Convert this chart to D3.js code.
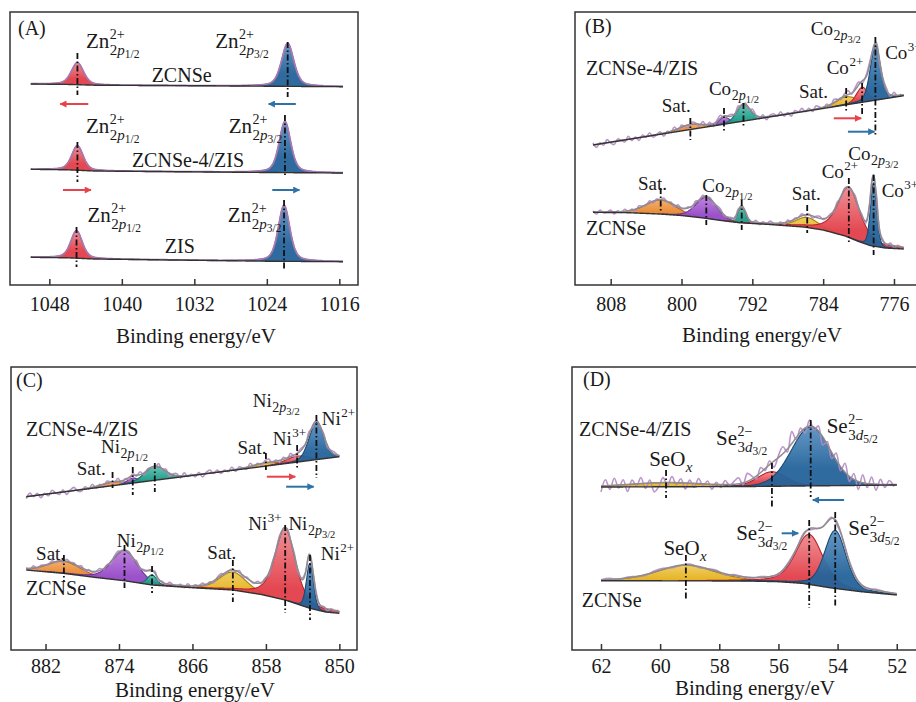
<!DOCTYPE html>
<html><head><meta charset="utf-8">
<script src="https://cdn.jsdelivr.net/npm/d3@7"></script>
<style>
body{margin:0;background:#fff}
svg{display:block}
text{font-family:"Liberation Serif","Times New Roman",serif;fill:#1a1a1a}
</style>
</head><body>
<svg id="chart" width="916" height="702"></svg>
<script>
// ================= DATA =================
// axis ticks (binding energy, eV)
const ticksA = [1048, 1040, 1032, 1024, 1016];
const ticksB = [808, 800, 792, 784, 776];
const ticksC = [882, 874, 866, 858, 850];
const ticksD = [62, 60, 58, 56, 54, 52];

// sample names
const samplesA = ["ZCNSe", "ZCNSe-4/ZIS", "ZIS"];
const samplesBCD = ["ZCNSe-4/ZIS", "ZCNSe"];

// ---- (A) Zn 2p ----  baselines: [energy, intensity a.u.]
const baseA1 = [[1050.05,201],[1046,200.6],[1043,199.8],[1030,199.2],[1024,198.8],[1015.6,198.3]];
const baseA2 = [[1050.05,115.7],[1046,115.2],[1043,114.0],[1030,113.0],[1024,112.5],[1015.6,112.0]];
const baseA3 = [[1050.05,27.7],[1046,27.2],[1043,26.0],[1030,24.5],[1024,23.8],[1015.6,23.3]];
// peaks: comp, centre, height, fwhm, lorentz fraction, marker top, marker bottom
const peaksA1 = [
  {comp:"red",  c:1044.9, h:22,   w:1.6, eta:0.45, mt:232, mb:190},
  {comp:"blue", c:1021.7, h:43,   w:1.6, eta:0.45, mt:243, mb:188}];
const peaksA2 = [
  {comp:"red",  c:1044.9, h:24.5, w:1.5, eta:0.45, mt:143, mb:103},
  {comp:"blue", c:1022.0, h:51,   w:1.5, eta:0.45, mt:170, mb:108}];
const peaksA3 = [
  {comp:"red",  c:1045.0, h:27.5, w:1.5, eta:0.45, mt:58,  mb:18},
  {comp:"blue", c:1022.1, h:56,   w:1.5, eta:0.45, mt:85,  mb:16}];
const arrowsA = [
  {comp:"red",  from:1043.7, to:1046.8, I:181},
  {comp:"blue", from:1020.8, to:1023.8, I:181},
  {comp:"red",  from:1046.5, to:1043.4, I:95},
  {comp:"blue", from:1023.4, to:1020.4, I:95}];

// ---- (B) Co 2p ----
const baseB1 = [[810,140],[799,155.5],[793,163.9],[781.4,180.2],[774.9,189.3]];
const baseB2 = [[810,72.7],[806,72.3],[802.5,71],[800,69.5],[797.5,67],[795.5,64.5],[793.5,62.3],[790,60.5],[786.2,58],[784,55],[781.5,49],[780,43.5],[778.7,39.5],[777,37],[774.9,36]];
const peaksB1 = [
  {comp:"orange", c:799.0, h:5,  w:3.0,  eta:0.3, mt:167, mb:145},
  {comp:"purple", c:795.2, h:7,  w:1.4,  eta:0.3, mt:177, mb:152},
  {comp:"teal",   c:793.0, h:17, w:1.8,  eta:0.3, mt:182, mb:157},
  {comp:"yellow", c:781.4, h:8,  w:2.6,  eta:0.3, mt:197, mb:173},
  {comp:"red",    c:779.6, h:15, w:1.5,  eta:0.3, mt:202, mb:169},
  {comp:"blue",   c:778.1, h:55, w:1.35, eta:0.3, mt:248, mb:148}];
const peaksB2 = [
  {comp:"orange", c:802.35, h:14, w:4.0,  eta:0.2, mt:97,  mb:73},
  {comp:"purple", c:797.2,  h:21, w:2.8,  eta:0.2, mt:90,  mb:60},
  {comp:"teal",   c:793.2,  h:16, w:1.0,  eta:0.2, mt:85,  mb:55},
  {comp:"yellow", c:785.8,  h:10, w:3.0,  eta:0.2, mt:80,  mb:52},
  {comp:"red",    c:781.1,  h:50, w:3.0,  eta:0.55, mt:107, mb:43},
  {comp:"blue",   c:778.3,  h:63, w:0.85, eta:0.2, mt:110, mb:30}];
const arrowsB = [
  {comp:"red",  from:782.8, to:779.7, I:166.7},
  {comp:"blue", from:781.2, to:778.2, I:153.3}];
// raw-data residuals (every 0.4 eV from 810 eV)
const resB1 = [2,-3,1,-2,3,-1,-3,2,0,-2,3,-2,1,-3,2,-1,3,-2,0,2,-3,1,-1,3,-2,2,-1,-3,2,1,-2,3,-1,2,-3,1,3,-2,0,2,-1,3,-2,1,-2,3,0,-2,2,-3,1,2,-1,3,-2,1,-3,2,0,3,-1,2,-2,3,1,-1,2,-3,3,1,-2,2,4,-1,2,3,-2,1,3,-1,2,-3,1,2,-2,3,-1,1];
const resB2 = [1,-2,2,-1,0,2,-2,1,-1,2,-1,1,-2,2,0,-1,2,-2,1,0,2,-1,1,-2,2,-1,0,1,-2,2,-1,2,-1,1,-2,1,2,-1,0,1,-2,2,-1,1,0,-1,2,-2,1,-1,2,0,-1,1,-2,2,-1,1,0,2,-1,1,-2,1,2,-1,0,1,-1,2,-2,1,0,-1,2,-1,1,-2,1,0,2,-1,1,-1,2,-2,1,0];

// ---- (C) Ni 2p ----
const baseC1 = [[884.1,153.3],[850,193.3]];
const baseC2 = [[884.1,80],[880.1,76.7],[876.5,72.5],[873.4,69.3],[870.4,65],[866,62.3],[861.6,60],[858.5,55.5],[855.9,50],[853.2,41.7],[851.5,38],[850,36.7]];
const peaksC1 = [
  {comp:"orange", c:874.7, h:3.5, w:3.0, eta:0.2, mt:178, mb:162},
  {comp:"purple", c:872.5, h:5,   w:1.4, eta:0.2, mt:183, mb:155},
  {comp:"teal",   c:870.1, h:14,  w:2.6, eta:0.2, mt:187, mb:158},
  {comp:"yellow", c:858.0, h:3,   w:3.5, eta:0.2, mt:197, mb:180},
  {comp:"red",    c:854.6, h:6,   w:2.8, eta:0.2, mt:205, mb:180},
  {comp:"blue",   c:852.5, h:37,  w:1.9, eta:0.2, mt:235, mb:172}];
const peaksC2 = [
  {comp:"orange", c:880.0, h:12,  w:4.2, eta:0.2, mt:95,  mb:68},
  {comp:"purple", c:873.4, h:30,  w:3.3, eta:0.3, mt:105, mb:62},
  {comp:"teal",   c:870.4, h:10,  w:1.2, eta:0.2, mt:84,  mb:57},
  {comp:"yellow", c:861.6, h:18,  w:3.5, eta:0.2, mt:90,  mb:48},
  {comp:"red",    c:855.9, h:72,  w:2.6, eta:0.5, mt:125, mb:37},
  {comp:"blue",   c:853.2, h:45,  w:0.9, eta:0.2, mt:95,  mb:30}];
const arrowsC = [
  {comp:"red",  from:857.9, to:854.8, I:173.3},
  {comp:"blue", from:855.8, to:852.8, I:163.3}];
const resC1 = [-2,3,-1,2,-3,1,-2,3,0,-2,2,-3,1,3,-1,-2,2,-1,3,-2,1,-3,2,0,-1,3,-2,1,-2,2,-1,3,-2,1,0,-2,3,-1,2,-3,1,2,-2,3,-1,1,-2,2,-3,1,3,-1,2,-2,1,-1,3,-2,2,0,-2,3,-1,1,-2,2,3,-1,1,-2,2,-1,3,-2,1,2,-1,3,-2,1,-1,2,-2,1,2,-1];
const resC2 = [1,-1,2,-2,1,0,-1,2,-1,1,-2,2,0,1,-1,2,-2,1,-1,0,2,-1,1,-2,1,2,-1,0,1,-2,2,-1,1,0,-1,2,-2,1,-1,2,0,-1,1,-2,2,-1,1,0,2,-1,1,-2,1,2,-1,0,1,-1,2,-2,1,0,-1,2,-1,1,-2,1,0,2,-1,1,-1,2,-2,1,0,1,-1,2,-1,1,-2,1,0,1];

// ---- (D) Se 3d ----
const baseD1 = [[62,163],[57,163.5],[52,165]];
const baseD2 = [[62,69.3],[57,69],[56,68.3],[55.2,66.7],[54.2,62],[53.2,58.3],[52,55]];
const peaksD1 = [
  {comp:"yellow", c:59.8,  h:4,    w:3.0,  eta:0.2, mt:180, mb:152},
  {comp:"red",    c:56.22, h:14.5, w:1.15, eta:0.2, mt:187, mb:142},
  {comp:"blue",   c:54.91, h:59,   w:1.55, eta:0.1, mt:230, mb:153}];
const peaksD2 = [
  {comp:"yellow", c:59.13, h:15.5, w:2.3,  eta:0.3, mt:95,  mb:50},
  {comp:"red",    c:54.96, h:50,   w:1.1,  eta:0.4, mt:130, mb:42},
  {comp:"blue",   c:54.08, h:58,   w:0.85, eta:0.3, mt:138, mb:42}];
const arrowsD = [
  {comp:"blue", from:53.78, to:54.84, I:150},
  {comp:"blue", from:55.89, to:55.33, I:116.7}];
// residuals every 0.15 eV (top) / 0.3 eV (bottom) from 62 eV
const resD1 = [-6,6,-4,7,-3,5,-7,4,-2,6,-5,3,-9,-4,5,-3,6,-2,4,-6,3,-4,5,-2,3,-5,2,-3,4,-1,3,6,-2,8,3,-3,5,-2,4,-6,2,7,-3,12,-2,4,-5,6,-3,5,-8,3,-6,7,-4,9,-5,6,-8,8,-4,7,-6,5,-3,4,-2];
const resD2 = [0,1,-1,1,0,-1,1,1,-1,0,1,-1,0,1,-1,1,0,-1,1,0,-1,1,0,1,-1,0,1,-1,1,0,-1,1,0,0];

// sub/superscript pieces
const sub2p12 = [["2",""],["p","i"],["1/2","s"]];
const sub2p32 = [["2",""],["p","i"],["3/2","s"]];
const sub3d32 = [["3",""],["d","i"],["3/2","s"]];
const sub3d52 = [["3",""],["d","i"],["5/2","s"]];

// annotations: [energy, intensity, main, sup, sub]
const labelsA = [
  [1043.95,237,"Zn","2+",sub2p12],[1029.7,237,"Zn","2+",sub2p32],
  [1043.95,152,"Zn","2+",sub2p12],[1028.2,152,"Zn","2+",sub2p32],
  [1043.8,63,"Zn","2+",sub2p12],[1028.3,63,"Zn","2+",sub2p32]];
const sampleLabelsA = [[1033.4,203,"middle"],[1032.7,118,"middle"],[1033.6,32,"middle"]];
const labelsB = [
  [802.24,173.3,"Sat.",null,null],[796.9,190,"Co",null,sub2p12],
  [786.73,187,"Sat.",null,null],[783.6,211,"Co","2+",null],
  [785.4,250,"Co",null,sub2p32],[777.0,226,"Co","3+",null],
  [804.92,95,"Sat.",null,null],[797.65,93.3,"Co",null,sub2p12],
  [787.55,85,"Sat.",null,null],[784.17,106.7,"Co","2+",null],
  [781.16,125,"Co",null,sub2p32],[777.39,88.3,"Co","3+",null]];
const sampleLabelsB = [[810.79,210,"start"],[810.79,50,"start"]];
const labelsC = [
  [878.6,175,"Sat.",null,null],[875.95,196.7,"Ni",null,sub2p12],
  [861.1,196,"Sat.",null,null],[857.25,205,"Ni","3+",null],
  [859.43,243.3,"Ni",null,sub2p32],[851.92,225,"Ni","2+",null],
  [883.03,90,"Sat.",null,null],[874.24,103.3,"Ni",null,sub2p12],
  [864.38,90.7,"Sat.",null,null],[859.91,120,"Ni","3+",null],
  [855.55,120,"Ni",null,sub2p32],[852.03,90,"Ni","2+",null]];
const sampleLabelsC = [[884.12,214,"start"],[884.12,55,"start"]];
const labelsD = [
  [60.37,184,"SeO",null,[["x","i"]]],[58.11,205,"Se","2−",sub3d32],[54.37,217,"Se","2−",sub3d52],
  [59.89,95,"SeO",null,[["x","i"]]],[57.43,110,"Se","2−",sub3d32],[53.64,115,"Se","2−",sub3d52]];
const sampleLabelsD = [[62.74,214,"start"],[62.65,42.7,"start"]];

// ================= STYLE / LAYOUT =================
const palette = {
  red:   {fill:"#e23f49", light:"#ef8a90", line:"#b8232c"},
  blue:  {fill:"#24639a", light:"#5b92c2", line:"#1b4a72"},
  teal:  {fill:"#1f9c8a", light:"#5fbfae", line:"#15705f"},
  purple:{fill:"#9548c6", light:"#b97ddc", line:"#6d2f96"},
  orange:{fill:"#e8852a", light:"#f1a961", line:"#b3621a"},
  yellow:{fill:"#e5b11c", light:"#efcb5c", line:"#a88010"}
};
const arrowCol = {red:"#e8434b", blue:"#2f72a6"};

const panels = [
  {letter:"(A)", x0:10,  x1:358, y0:12,  y1:285, dom:[1052.34,1013.94], ticks:ticksA, tickPad:12, lp:[18,35],
   title:[196,343], gridStep:0.05, fs:21, spectra:[
     {base:baseA1, peaks:peaksA1, rng:[1050.05,1015.6]},
     {base:baseA2, peaks:peaksA2, rng:[1050.05,1015.6]},
     {base:baseA3, peaks:peaksA3, rng:[1050.05,1015.6]}],
   arrows:arrowsA, labels:labelsA, samples:samplesA, sampleLabels:sampleLabelsA, rawA:true},
  {letter:"(B)", x0:575, x1:924, y0:12,  y1:285, dom:[812.03,772.61], ticks:ticksB, tickPad:12, lp:[585,33],
   title:[762,342], gridStep:0.05, fs:19, spectra:[
     {base:baseB1, peaks:peaksB1, rng:[810,774.9], res:resB1, resStep:0.4},
     {base:baseB2, peaks:peaksB2, rng:[810,774.9], res:resB2, resStep:0.4}],
   arrows:arrowsB, labels:labelsB, samples:samplesBCD, sampleLabels:sampleLabelsB},
  {letter:"(C)", x0:11,  x1:357, y0:367, y1:650, dom:[885.76,848.08], ticks:ticksC, tickPad:9, lp:[16,387],
   title:[195,697], gridStep:0.05, fs:19, spectra:[
     {base:baseC1, peaks:peaksC1, rng:[884.1,850], res:resC1, resStep:0.4},
     {base:baseC2, peaks:peaksC2, rng:[884.1,850], res:resC2, resStep:0.4}],
   arrows:arrowsC, labels:labelsC, samples:samplesBCD, sampleLabels:sampleLabelsC},
  {letter:"(D)", x0:572, x1:921, y0:367, y1:650, dom:[62.98,51.18], ticks:ticksD, tickPad:9, lp:[583,386],
   title:[755,695], gridStep:0.02, fs:21, spectra:[
     {base:baseD1, peaks:peaksD1, rng:[62,52], res:resD1, resStep:0.15},
     {base:baseD2, peaks:peaksD2, rng:[62,52], res:resD2, resStep:0.3}],
   arrows:arrowsD, labels:labelsD, samples:samplesBCD, sampleLabels:sampleLabelsD}
];

// ================= DRAW =================
const svg = d3.select("#chart");
const defs = svg.append("defs");
Object.entries(palette).forEach(([k,c])=>{
  const g = defs.append("linearGradient").attr("id","grad-"+k).attr("x1",0).attr("y1",0).attr("x2",0).attr("y2",1);
  g.append("stop").attr("offset","0%").attr("stop-color",c.light);
  g.append("stop").attr("offset","70%").attr("stop-color",c.fill);
  g.append("stop").attr("offset","100%").attr("stop-color",c.fill);
});
Object.entries(arrowCol).forEach(([k,c])=>{
  defs.append("marker").attr("id","arr-"+k).attr("viewBox","0 0 10 10").attr("refX",9).attr("refY",5)
    .attr("markerWidth",9).attr("markerHeight",7).attr("markerUnits","userSpaceOnUse").attr("orient","auto")
    .append("path").attr("d","M0,0 L10,5 L0,10 Z").attr("fill",c);
});

function pv(E,p){const d=(E-p.c)/p.w; const g=Math.exp(-4*Math.LN2*d*d); const l=1/(1+4*d*d); return p.h*(p.eta*l+(1-p.eta)*g);}

function peakLabel(g, x, y, main, sup, sub, F){
  const t = g.append("text").attr("x",x).attr("y",y).style("font-size",F+"px").text(main);
  const w = t.node().getComputedTextLength();
  const xs = x + w + 0.5;
  const fsS = Math.round(F*0.66);
  if (sup) g.append("text").attr("x",xs).attr("y",y-F*0.42).style("font-size",fsS+"px").text(sup);
  if (sub){
    const s = g.append("text").attr("x",xs).attr("y",y+(sup?F*0.32:F*0.27)).style("font-size",(fsS+1)+"px");
    sub.forEach(([txt,st])=>{
      const ts = s.append("tspan").text(txt);
      if (st.includes("i")) ts.style("font-style","italic");
      if (st.includes("s")) ts.style("font-size",(fsS-2.5)+"px").attr("dy",3);
    });
  }
}

panels.forEach(P=>{
  const x = d3.scaleLinear().domain(P.dom).range([P.x0,P.x1]);
  const y = d3.scaleLinear().domain([0,P.y1-P.y0]).range([P.y1,P.y0]);
  const g = svg.append("g");

  P.spectra.forEach(S=>{
    const base = d3.scaleLinear().domain(S.base.map(d=>d[0])).range(S.base.map(d=>d[1])).clamp(true);
    const grid = d3.range(S.rng[0], S.rng[1]-1e-9, -P.gridStep);
    const env = E => base(E) + d3.sum(S.peaks, p=>pv(E,p));

    // component fills
    S.peaks.forEach(p=>{
      const pts = grid.filter(E=>pv(E,p)>0.3).map(E=>({E, b:base(E), v:pv(E,p)}));
      const c = palette[p.comp];
      g.append("path").datum(pts)
        .attr("d", d3.area().x(d=>x(d.E)).y0(d=>y(d.b)).y1(d=>y(d.b+d.v)))
        .attr("fill","url(#grad-"+p.comp+")").attr("fill-opacity",0.95);
      g.append("path").datum(pts)
        .attr("d", d3.line().x(d=>x(d.E)).y(d=>y(d.b+d.v)))
        .attr("fill","none").attr("stroke",c.line).attr("stroke-width",1.1);
    });

    // raw data
    if (S.res){
      const raw = S.res.map((r,i)=>[S.rng[0]-i*S.resStep, r]).filter(d=>d[0]>=S.rng[1]-1e-9)
        .map(d=>[d[0], env(d[0])+d[1]]);
      g.append("path").datum(raw)
        .attr("d", d3.line().x(d=>x(d[0])).y(d=>y(d[1])).curve(d3.curveCatmullRom))
        .attr("fill","none").attr("stroke","#b488c4").attr("stroke-width",1.6).attr("stroke-opacity",0.9);
    }
    // envelope
    g.append("path").datum(grid.map(E=>[E,env(E)]))
      .attr("d", d3.line().x(d=>x(d[0])).y(d=>y(d[1])))
      .attr("fill","none").attr("stroke", P.rawA ? "#a87ab2" : "#8d8d8d")
      .attr("stroke-width", P.rawA ? 1.8 : 1.5);
    // baseline
    g.append("path").datum(grid.map(E=>[E,base(E)]))
      .attr("d", d3.line().x(d=>x(d[0])).y(d=>y(d[1])))
      .attr("fill","none").attr("stroke","#333").attr("stroke-width",1.4);
    // dash-dot markers
    S.peaks.forEach(p=>{
      g.append("line").attr("x1",x(p.c)).attr("x2",x(p.c)).attr("y1",y(p.mt)).attr("y2",y(p.mb))
        .attr("stroke","#111").attr("stroke-width",1.8).attr("stroke-dasharray","6,2.5,1.5,2.5");
    });
  });

  // arrows
  P.arrows.forEach(a=>{
    g.append("line").attr("x1",x(a.from)).attr("x2",x(a.to)).attr("y1",y(a.I)).attr("y2",y(a.I))
      .attr("stroke",arrowCol[a.comp]).attr("stroke-width",2).attr("marker-end","url(#arr-"+a.comp+")");
  });

  // peak labels
  P.labels.forEach(L=>peakLabel(g, x(L[0]), y(L[1]), L[2], L[3], L[4], P.fs));
  // sample labels
  P.sampleLabels.forEach((s,i)=>{
    g.append("text").attr("x",x(s[0])).attr("y",y(s[1])).attr("text-anchor",s[2])
      .style("font-size","20px").text(P.samples[i]);
  });

  // frame
  g.append("rect").attr("x",P.x0).attr("y",P.y0).attr("width",P.x1-P.x0).attr("height",P.y1-P.y0)
    .attr("fill","none").attr("stroke","#333").attr("stroke-width",1.5);
  // axis
  const ax = g.append("g").attr("transform",`translate(0,${P.y1})`)
    .call(d3.axisBottom(x).tickValues(P.ticks).tickFormat(d3.format("d")).tickSizeInner(-6).tickSizeOuter(0).tickPadding(P.tickPad));
  ax.select(".domain").remove();
  ax.selectAll(".tick line").attr("stroke","#333").attr("stroke-width",1.5);
  ax.selectAll(".tick text").style("font-size","20px").style("font-family","'Liberation Serif',serif").attr("fill","#1a1a1a");
  // title and letter
  g.append("text").attr("x",P.title[0]).attr("y",P.title[1]).attr("text-anchor","middle")
    .style("font-size","21px").text("Binding energy/eV");
  g.append("text").attr("x",P.lp[0]).attr("y",P.lp[1]).style("font-size","20px").text(P.letter);
});
</script>
</body></html>
